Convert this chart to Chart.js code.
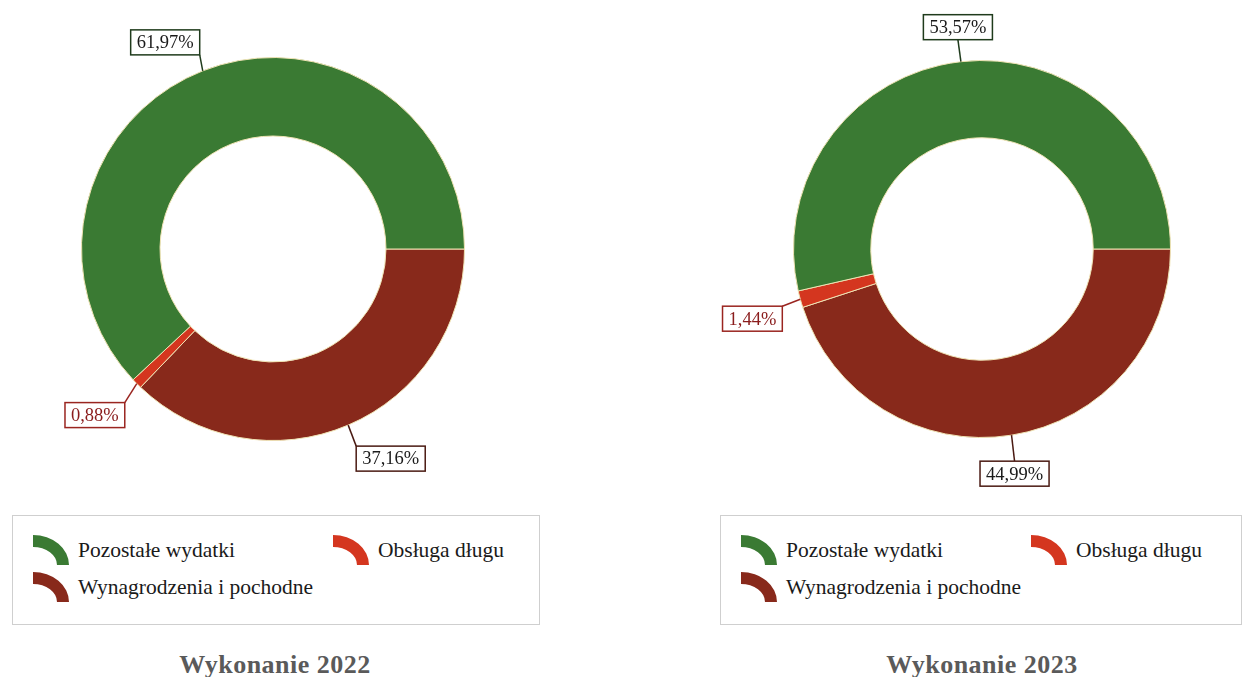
<!DOCTYPE html>
<html lang="pl">
<head>
<meta charset="UTF-8">
<title>Wykonanie 2022 / 2023</title>
<script src="https://cdn.jsdelivr.net/npm/chart.js"></script>
<style>
body {
    margin: 0;
    width: 1242px;
    height: 677px;
    background: #fff;
    position: relative;
    overflow: hidden;
    font-family: 'Liberation Serif', 'DejaVu Serif', serif;
}
.chartBox {
    position: absolute;
    top: 0;
    height: 500px;
}
.legendBox {
    position: absolute;
    top: 515px;
    height: 110px;
    border: 1px solid #cfcfcf;
    box-sizing: border-box;
}
.legendItem {
    position: absolute;
    display: flex;
    align-items: center;
    font-size: 21.5px;
    color: #1a1a1a;
    white-space: nowrap;
}
.icon {
    width: 36px;
    height: 30px;
    overflow: hidden;
    position: relative;
    margin-right: 9px;
}
.icon::before {
    content: '';
    position: absolute;
    left: -36px;
    top: 0;
    width: 72px;
    height: 60px;
    border-radius: 50%;
    box-sizing: border-box;
    border: 12px solid var(--c);
}
.title {
    position: absolute;
    top: 650px;
    width: 400px;
    text-align: center;
    font-weight: bold;
    font-size: 26px;
    letter-spacing: 0.5px;
    color: #5a5a5a;
}
</style>
</head>
<body>
<div class="chartBox" style="left:0;width:546px"><canvas id="chart2022"></canvas></div>
<div class="chartBox" style="left:700px;width:542px"><canvas id="chart2023"></canvas></div>
<div class="legendBox" id="legend2022" style="left:12px;width:528px"></div>
<div class="legendBox" id="legend2023" style="left:720px;width:522px"></div>
<div class="title" style="left:75px">Wykonanie 2022</div>
<div class="title" style="left:782px">Wykonanie 2023</div>
<script>
// data (legend order)
const categories = ['Pozostałe wydatki', 'Obsługa długu', 'Wynagrodzenia i pochodne'];
const values2022 = [61.97, 0.88, 37.16];
const values2023 = [53.57, 1.44, 44.99];
const colors = ['#3a7a33', '#d4361f', '#88291b'];
const labelBorders = ['#1f3b1c', '#9a2520', '#4a1a12'];
const labelText = ['#1a1a1a', '#8a1c1c', '#1a1a1a'];
// drawing order clockwise from 3 o'clock
const drawOrder = [2, 1, 0];

function fmt(v) {
    return v.toFixed(2).replace('.', ',') + '%';
}

// boxed labels with leader lines
const boxLabels = {
    id: 'boxLabels',
    afterDatasetsDraw(chart, args, opts) {
        const ctx = chart.ctx;
        const meta = chart.getDatasetMeta(0);
        ctx.save();
        ctx.font = '18.5px "Liberation Serif"';
        meta.data.forEach((arc, i) => {
            const idx = drawOrder[i];
            const p = arc.getProps(['x', 'y', 'startAngle', 'endAngle', 'outerRadius'], true);
            const mid = (p.startAngle + p.endAngle) / 2;
            const ax = p.x + Math.cos(mid) * p.outerRadius;
            const ay = p.y + Math.sin(mid) * p.outerRadius;
            const lay = opts.layout[idx];
            const ex = ax + lay.dx, ey = ay + lay.dy;
            const txt = fmt(chart.data.datasets[0].data[i]);
            const w = ctx.measureText(txt).width + 12;
            const h = 25;
            let bx, by;
            if (lay.anchor === 'br') { bx = ex - w; by = ey - h; }
            else if (lay.anchor === 'tl') { bx = ex; by = ey; }
            else if (lay.anchor === 'tr') { bx = ex - w; by = ey; }
            else if (lay.anchor === 'bc') { bx = ex - w / 2; by = ey - h; }
            else { bx = ex - w / 2; by = ey; }
            ctx.strokeStyle = labelBorders[idx];
            ctx.lineWidth = 1.5;
            ctx.beginPath();
            ctx.moveTo(ax, ay);
            ctx.lineTo(ex, ey);
            ctx.stroke();
            ctx.fillStyle = '#fff';
            ctx.fillRect(bx, by, w, h);
            ctx.strokeRect(bx, by, w, h);
            ctx.fillStyle = labelText[idx];
            ctx.textAlign = 'center';
            ctx.textBaseline = 'middle';
            ctx.fillText(txt, bx + w / 2, by + h / 2 + 1);
        });
        ctx.restore();
    }
};

function makeChart(id, values, padding, layout) {
    return new Chart(document.getElementById(id), {
        type: 'doughnut',
        data: {
            labels: drawOrder.map(i => categories[i]),
            datasets: [{
                data: drawOrder.map(i => values[i]),
                backgroundColor: drawOrder.map(i => colors[i]),
                borderColor: '#efe3b4',
                borderWidth: 1
            }]
        },
        options: {
            responsive: true,
            maintainAspectRatio: false,
            animation: false,
            rotation: 90,
            cutout: '59%',
            layout: { padding: padding },
            plugins: {
                legend: { display: false },
                tooltip: { enabled: false },
                boxLabels: { layout: layout }
            }
        },
        plugins: [boxLabels]
    });
}

makeChart('chart2022', values2022,
    { left: 81, right: 81, top: 57, bottom: 59 },
    [
        { dx: -3, dy: -16, anchor: 'br' },
        { dx: -12, dy: 19, anchor: 'tr' },
        { dx: 8, dy: 21, anchor: 'tl' }
    ]);
makeChart('chart2023', values2023,
    { left: 93, right: 71, top: 60, bottom: 62 },
    [
        { dx: -3, dy: -22, anchor: 'bc' },
        { dx: -18, dy: 7, anchor: 'tr' },
        { dx: 3, dy: 26, anchor: 'tc' }
    ]);

function buildLegend(id, obsLeft) {
    const box = document.getElementById(id);
    const pos = [
        { left: 20, top: 19 },
        { left: obsLeft, top: 19 },
        { left: 20, top: 56 }
    ];
    categories.forEach((name, i) => {
        const item = document.createElement('div');
        item.className = 'legendItem';
        item.style.left = pos[i].left + 'px';
        item.style.top = pos[i].top + 'px';
        item.innerHTML = '<span class="icon" style="--c:' + colors[i] + '"></span>' + name;
        box.appendChild(item);
    });
}
buildLegend('legend2022', 320);
buildLegend('legend2023', 310);
</script>
</body>
</html>
